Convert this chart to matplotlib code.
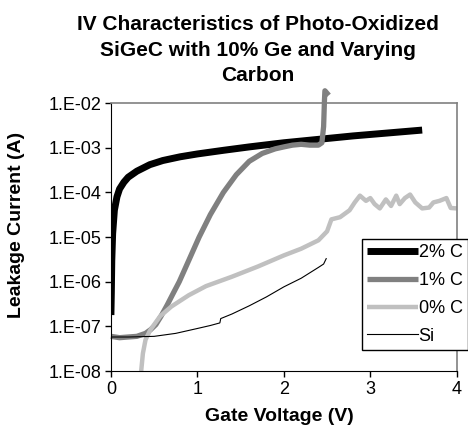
import numpy as np
import matplotlib
matplotlib.use('Agg')
import matplotlib.pyplot as plt

plt.rcParams['font.family'] = ['Liberation Sans', 'DejaVu Sans']

# 2% C
x_c2 = [0, 0.005, 0.01, 0.02, 0.04, 0.07, 0.1, 0.15, 0.2, 0.3, 0.45, 0.6, 0.8, 1.0,
        1.3, 1.6, 2.0, 2.4, 2.8, 3.2, 3.6]
y_c2 = [1.8e-7, 6e-7, 3e-6, 1.2e-5, 4e-5, 8e-5, 1.2e-4, 1.7e-4, 2.2e-4, 3.0e-4, 4.2e-4,
        5.2e-4, 6.3e-4, 7.3e-4, 8.8e-4, 1.05e-3, 1.3e-3, 1.55e-3, 1.85e-3, 2.15e-3, 2.5e-3]

# 1% C
x_c1 = [0, 0.1, 0.2, 0.3, 0.4, 0.46, 0.52, 0.58, 0.65, 0.72, 0.79, 0.9, 1.02, 1.15,
        1.3, 1.45, 1.6, 1.75, 1.9, 2.0, 2.1, 2.2, 2.3, 2.4, 2.44, 2.46, 2.47, 2.475, 2.52]
y_c1 = [6e-8, 5.6e-8, 5.8e-8, 6e-8, 7e-8, 8.5e-8, 1.1e-7, 1.7e-7, 3e-7, 5.5e-7, 1e-6,
        3e-6, 1e-5, 3.2e-5, 1e-4, 2.5e-4, 5e-4, 7.5e-4, 9.5e-4, 1.05e-3, 1.15e-3, 1.2e-3,
        1.15e-3, 1.15e-3, 1.3e-3, 3e-3, 1.2e-2, 1.9e-2, 1.5e-2]

# 0% C
x_c0 = [0.35, 0.37, 0.4, 0.45, 0.5, 0.57, 0.7, 0.9, 1.1, 1.4, 1.7, 2.0, 2.2, 2.4, 2.5,
        2.55, 2.65, 2.76, 2.82, 2.88, 2.95, 3.0, 3.05, 3.11, 3.18, 3.24, 3.3, 3.34,
        3.4, 3.46, 3.52, 3.6, 3.68, 3.73, 3.8, 3.88, 3.93, 4.0]
y_c0 = [1e-8, 2.5e-8, 5e-8, 8e-8, 1.1e-7, 1.7e-7, 2.8e-7, 5e-7, 8e-7, 1.3e-6, 2.2e-6,
        3.9e-6, 5.5e-6, 8.5e-6, 1.35e-5, 2.5e-5, 2.8e-5, 4e-5, 6e-5, 8.5e-5, 6.5e-5, 7.5e-5,
        5.5e-5, 4.4e-5, 7e-5, 5e-5, 8.5e-5, 5.5e-5, 7.5e-5, 9e-5, 6e-5, 4.4e-5, 4.6e-5,
        6e-5, 6.5e-5, 7.5e-5, 4.5e-5, 4.4e-5]

# Si
x_si = [0, 0.2, 0.5, 0.75, 1.0, 1.15, 1.26, 1.27, 1.4, 1.6, 1.8, 2.0, 2.2, 2.4, 2.46, 2.49]
y_si = [5.8e-8, 5.8e-8, 6e-8, 7e-8, 9e-8, 1.05e-7, 1.2e-7, 1.5e-7, 1.9e-7, 2.9e-7,
        4.6e-7, 7.7e-7, 1.2e-6, 2.1e-6, 2.5e-6, 3.3e-6]

yticks = [1e-8, 1e-7, 1e-6, 1e-5, 1e-4, 1e-3, 1e-2]
ylabels = ['1.E-08', '1.E-07', '1.E-06', '1.E-05', '1.E-04', '1.E-03', '1.E-02']
xticks = [0, 1, 2, 3, 4]

fig = plt.figure(figsize=(4.68, 4.3), dpi=100)
ax = fig.add_axes([0.237, 0.137, 0.739, 0.623])

ax.plot(x_c2, y_c2, color='black', lw=5, label='2% C', solid_capstyle='butt')
ax.plot(x_c1, y_c1, color='#808080', lw=3.8, label='1% C', clip_on=False,
        solid_capstyle='butt')
ax.plot(x_c0, y_c0, color='#c0c0c0', lw=3.2, label='0% C', solid_capstyle='butt')
ax.plot(x_si, y_si, color='black', lw=0.8, label='Si')

ax.set_yscale('log')
ax.set_xlim(0, 4)
ax.set_ylim(1e-8, 1e-2)
ax.set_yticks(yticks)
ax.set_yticklabels(ylabels)
ax.yaxis.set_minor_locator(matplotlib.ticker.NullLocator())
ax.set_xticks(xticks)
ax.set_xticklabels([str(v) for v in xticks])
ax.tick_params(labelsize=13, length=4, width=1, direction='out', pad=3)

ax.spines['top'].set_color('#808080')
ax.spines['right'].set_color('#808080')
ax.spines['top'].set_linewidth(1.2)
ax.spines['right'].set_linewidth(1.2)

ax.set_xlabel('Gate Voltage (V)', fontsize=14, fontweight='bold')
ax.xaxis.set_label_coords(0.486, -0.139)
ax.set_ylabel('Leakage Current (A)', fontsize=14, fontweight='bold')
ax.yaxis.set_label_coords(-0.249, 0.547)

fig.text(0.551, 1 - 50 / 430, 'IV Characteristics of Photo-Oxidized\nSiGeC with 10% Ge and Varying\nCarbon',
         fontsize=15, fontweight='bold', ha='center', va='center', linespacing=1.45)

leg = ax.legend(loc='upper left', bbox_to_anchor=(0.725, 0.494), fontsize=13,
                frameon=True, fancybox=False, handlelength=2.8, handletextpad=0.05,
                borderpad=0.3, labelspacing=0.6, borderaxespad=0)
leg.get_frame().set_edgecolor('black')
leg.get_frame().set_linewidth(1.0)
leg.get_frame().set_alpha(1)

fig.savefig('out.png', dpi=100)
